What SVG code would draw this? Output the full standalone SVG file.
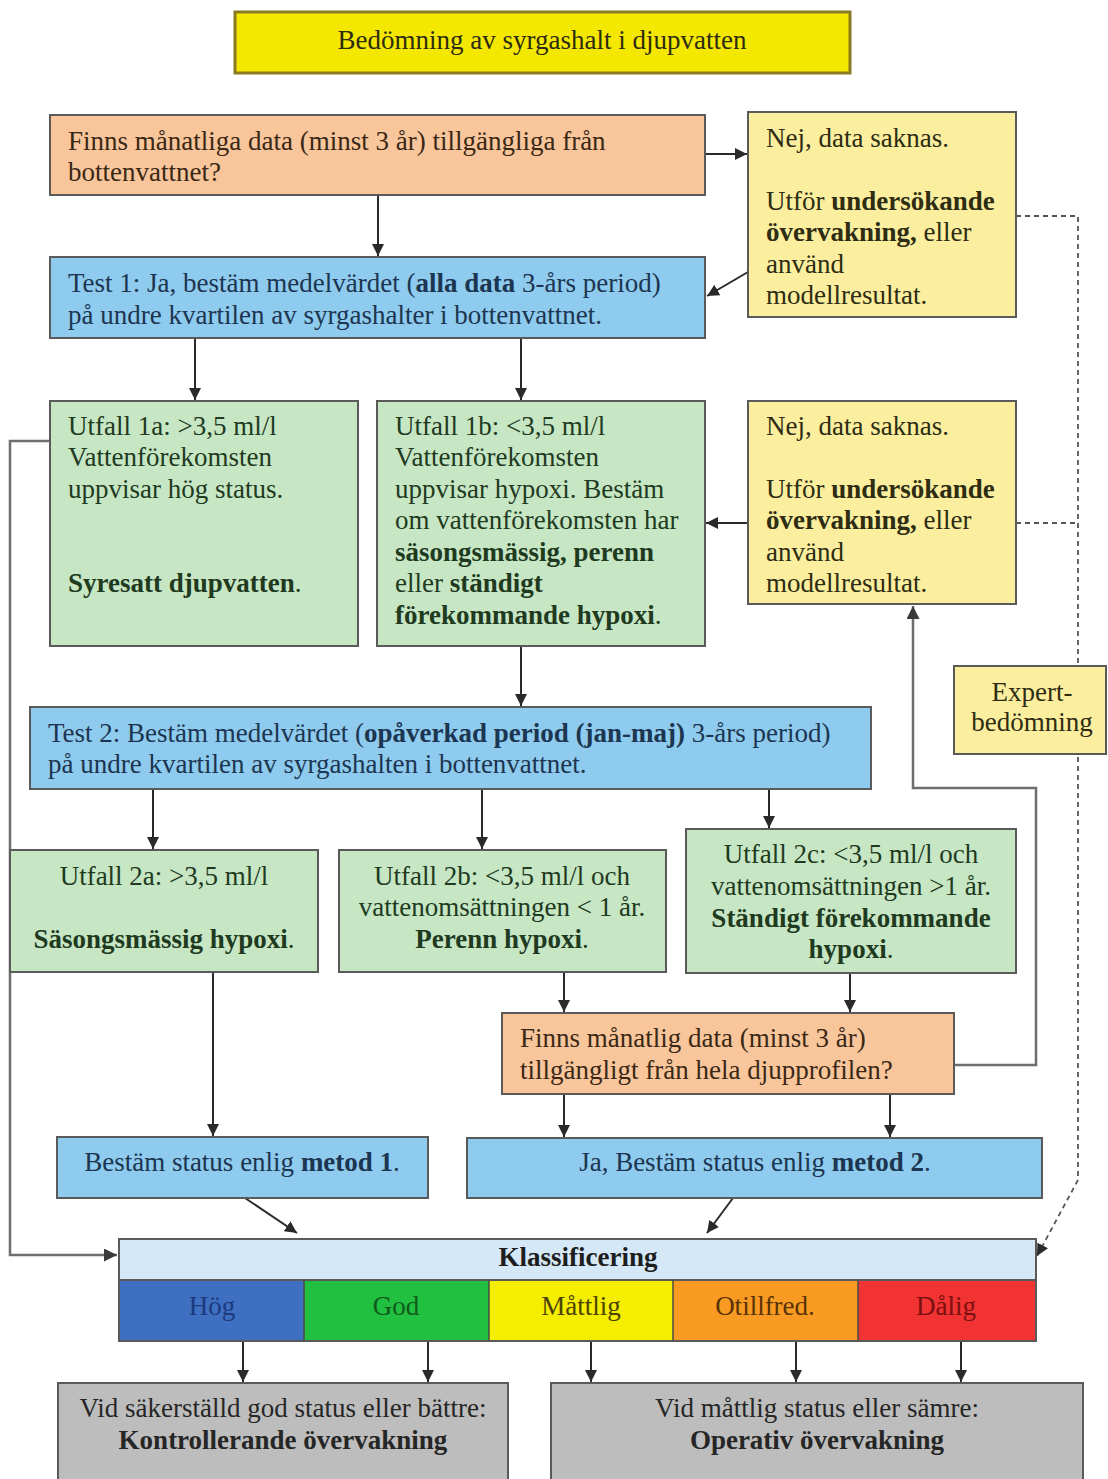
<svg xmlns="http://www.w3.org/2000/svg" width="1108" height="1479" viewBox="0 0 1108 1479">
  <defs>
    <marker id="arrow" viewBox="0 0 10 10" refX="10" refY="5" markerWidth="12" markerHeight="12" markerUnits="userSpaceOnUse" orient="auto">
      <path d="M0,0 L10,5 L0,10 z" fill="#2a2a2a"/>
    </marker>
    <marker id="arrowGray" viewBox="0 0 10 10" refX="10" refY="5" markerWidth="13" markerHeight="13" markerUnits="userSpaceOnUse" orient="auto">
      <path d="M0,0 L10,5 L0,10 z" fill="#3a3a3a"/>
    </marker>
  </defs>
  <style>
    text { font-family: "Liberation Serif", "Times New Roman", serif; font-size: 27px; }
    .b { font-weight: bold; }
    .mid { text-anchor: middle; }
    .box { stroke: #5a5a5a; stroke-width: 2; }
    .title { fill: #f5e800; stroke: #8a7a20; stroke-width: 3; }
    .peach { fill: #f9c69c; }
    .lyellow { fill: #fbef9f; }
    .blue { fill: #8ecbee; }
    .green { fill: #c6e6c4; }
    .gray { fill: #bdbdbd; }
    .tBlue { fill: #1c3550; }
    .tGreen { fill: #1f3a1f; }
    .tYel { fill: #2e2c12; }
    .tPeach { fill: #3a2815; }
    .tGray { fill: #262626; }
    .line { fill: none; stroke: #2a2a2a; stroke-width: 2; }
    .loop { fill: none; stroke: #6e6e6e; stroke-width: 2.5; }
    .dash { fill: none; stroke: #555; stroke-width: 1.8; stroke-dasharray: 5 4; }
  </style>

  <!-- connectors -->
  <g id="connectors">
    <line class="line" x1="705" y1="154" x2="747" y2="154" marker-end="url(#arrow)"/>
    <line class="line" x1="378" y1="195" x2="378" y2="256" marker-end="url(#arrow)"/>
    <line class="line" x1="748" y1="272" x2="707" y2="296" marker-end="url(#arrow)"/>
    <line class="line" x1="195" y1="338" x2="195" y2="400" marker-end="url(#arrow)"/>
    <line class="line" x1="521" y1="338" x2="521" y2="400" marker-end="url(#arrow)"/>
    <line class="line" x1="748" y1="523" x2="706" y2="523" marker-end="url(#arrow)"/>
    <line class="line" x1="521" y1="646" x2="521" y2="706" marker-end="url(#arrow)"/>
    <line class="line" x1="153" y1="789" x2="153" y2="849" marker-end="url(#arrow)"/>
    <line class="line" x1="482" y1="789" x2="482" y2="849" marker-end="url(#arrow)"/>
    <line class="line" x1="769" y1="789" x2="769" y2="828" marker-end="url(#arrow)"/>
    <line class="line" x1="213" y1="972" x2="213" y2="1136" marker-end="url(#arrow)"/>
    <line class="line" x1="564" y1="972" x2="564" y2="1012" marker-end="url(#arrow)"/>
    <line class="line" x1="850" y1="973" x2="850" y2="1012" marker-end="url(#arrow)"/>
    <line class="line" x1="564" y1="1094" x2="564" y2="1137" marker-end="url(#arrow)"/>
    <line class="line" x1="890" y1="1094" x2="890" y2="1137" marker-end="url(#arrow)"/>
    <line class="line" x1="245" y1="1198" x2="297" y2="1233" marker-end="url(#arrow)"/>
    <line class="line" x1="733" y1="1198" x2="707" y2="1233" marker-end="url(#arrow)"/>
    <!-- loop back from the depth-profile question -->
    <polyline class="loop" points="954,1065 1036,1065 1036,788 913,788 913,606" marker-end="url(#arrowGray)"/>
    <!-- left bypass from Utfall 1a -->
    <polyline class="loop" points="50,441 10,441 10,1255 117,1255" marker-end="url(#arrowGray)"/>
    <!-- expert route -->
    <polyline class="dash" points="1016,216 1078,216 1078,1180 1037,1256" marker-end="url(#arrow)"/>
    <line class="dash" x1="1016" y1="523" x2="1078" y2="523"/>
    <!-- classification to monitoring -->
    <line class="line" x1="243" y1="1341" x2="243" y2="1382" marker-end="url(#arrow)"/>
    <line class="line" x1="428" y1="1341" x2="428" y2="1382" marker-end="url(#arrow)"/>
    <line class="line" x1="591" y1="1341" x2="591" y2="1382" marker-end="url(#arrow)"/>
    <line class="line" x1="796" y1="1341" x2="796" y2="1382" marker-end="url(#arrow)"/>
    <line class="line" x1="961" y1="1341" x2="961" y2="1382" marker-end="url(#arrow)"/>
  </g>

  <g id="title">
    <rect class="title" x="235" y="12" width="615" height="61"/>
    <text class="mid tYel" x="542" y="49">Bedömning av syrgashalt i djupvatten</text>
  </g>

  <g id="q-bottom-data">
    <rect class="box peach" x="50" y="115" width="655" height="80"/>
    <text class="tPeach" x="68" y="150">Finns månatliga data (minst 3 år) tillgängliga från</text>
    <text class="tPeach" x="68" y="181">bottenvattnet?</text>
  </g>

  <g id="no-data-1">
    <rect class="box lyellow" x="748" y="112" width="268" height="205"/>
    <text class="tYel" x="766" y="147">Nej, data saknas.</text>
    <text class="tYel" x="766" y="210">Utför <tspan class="b">undersökande</tspan></text>
    <text class="tYel" x="766" y="241"><tspan class="b">övervakning,</tspan> eller</text>
    <text class="tYel" x="766" y="273">använd</text>
    <text class="tYel" x="766" y="304">modellresultat.</text>
  </g>

  <g id="test-1">
    <rect class="box blue" x="50" y="257" width="655" height="81"/>
    <text class="tBlue" x="68" y="292">Test 1: Ja, bestäm medelvärdet (<tspan class="b">alla data</tspan> 3-års period)</text>
    <text class="tBlue" x="68" y="324">på undre kvartilen av syrgashalter i bottenvattnet.</text>
  </g>

  <g id="outcome-1a">
    <rect class="box green" x="50" y="401" width="308" height="245"/>
    <text class="tGreen" x="68" y="435">Utfall 1a: &gt;3,5 ml/l</text>
    <text class="tGreen" x="68" y="466">Vattenförekomsten</text>
    <text class="tGreen" x="68" y="498">uppvisar hög status.</text>
    <text class="tGreen" x="68" y="592"><tspan class="b">Syresatt djupvatten</tspan>.</text>
  </g>

  <g id="outcome-1b">
    <rect class="box green" x="377" y="401" width="328" height="245"/>
    <text class="tGreen" x="395" y="435">Utfall 1b: &lt;3,5 ml/l</text>
    <text class="tGreen" x="395" y="466">Vattenförekomsten</text>
    <text class="tGreen" x="395" y="498">uppvisar hypoxi. Bestäm</text>
    <text class="tGreen" x="395" y="529">om vattenförekomsten har</text>
    <text class="tGreen b" x="395" y="561">säsongsmässig, perenn</text>
    <text class="tGreen" x="395" y="592">eller <tspan class="b">ständigt</tspan></text>
    <text class="tGreen" x="395" y="624"><tspan class="b">förekommande hypoxi</tspan>.</text>
  </g>

  <g id="no-data-2">
    <rect class="box lyellow" x="748" y="401" width="268" height="203"/>
    <text class="tYel" x="766" y="435">Nej, data saknas.</text>
    <text class="tYel" x="766" y="498">Utför <tspan class="b">undersökande</tspan></text>
    <text class="tYel" x="766" y="529"><tspan class="b">övervakning,</tspan> eller</text>
    <text class="tYel" x="766" y="561">använd</text>
    <text class="tYel" x="766" y="592">modellresultat.</text>
  </g>

  <g id="expert">
    <rect class="box lyellow" x="954" y="666" width="152" height="88"/>
    <text class="mid tYel" x="1032" y="701">Expert-</text>
    <text class="mid tYel" x="1032" y="731">bedömning</text>
  </g>

  <g id="test-2">
    <rect class="box blue" x="30" y="707" width="841" height="82"/>
    <text class="tBlue" x="48" y="742">Test 2: Bestäm medelvärdet (<tspan class="b">opåverkad period (jan-maj)</tspan> 3-års period)</text>
    <text class="tBlue" x="48" y="773">på undre kvartilen av syrgashalten i bottenvattnet.</text>
  </g>

  <g id="outcome-2a">
    <rect class="box green" x="10" y="850" width="308" height="122"/>
    <text class="mid tGreen" x="164" y="885">Utfall 2a: &gt;3,5 ml/l</text>
    <text class="mid tGreen" x="164" y="948"><tspan class="b">Säsongsmässig hypoxi</tspan>.</text>
  </g>

  <g id="outcome-2b">
    <rect class="box green" x="339" y="850" width="327" height="122"/>
    <text class="mid tGreen" x="502" y="885">Utfall 2b: &lt;3,5 ml/l och</text>
    <text class="mid tGreen" x="502" y="916">vattenomsättningen &lt; 1 år.</text>
    <text class="mid tGreen" x="502" y="948"><tspan class="b">Perenn hypoxi</tspan>.</text>
  </g>

  <g id="outcome-2c">
    <rect class="box green" x="686" y="829" width="330" height="144"/>
    <text class="mid tGreen" x="851" y="863">Utfall 2c: &lt;3,5 ml/l och</text>
    <text class="mid tGreen" x="851" y="895">vattenomsättningen &gt;1 år.</text>
    <text class="mid tGreen b" x="851" y="927">Ständigt förekommande</text>
    <text class="mid tGreen" x="851" y="958"><tspan class="b">hypoxi</tspan>.</text>
  </g>

  <g id="q-depth-profile">
    <rect class="box peach" x="502" y="1013" width="452" height="81"/>
    <text class="tPeach" x="520" y="1047">Finns månatlig data (minst 3 år)</text>
    <text class="tPeach" x="520" y="1079">tillgängligt från hela djupprofilen?</text>
  </g>

  <g id="method-1">
    <rect class="box blue" x="57" y="1137" width="371" height="61"/>
    <text class="mid tBlue" x="242" y="1171">Bestäm status enlig <tspan class="b">metod 1</tspan>.</text>
  </g>

  <g id="method-2">
    <rect class="box blue" x="467" y="1138" width="575" height="60"/>
    <text class="mid tBlue" x="755" y="1171">Ja, Bestäm status enlig <tspan class="b">metod 2</tspan>.</text>
  </g>

  <g id="classification">
    <rect x="119" y="1239" width="917" height="41" fill="#d5e8f7" stroke="#5a5a5a" stroke-width="2"/>
    <text class="mid b" x="578" y="1266" fill="#1e1e1e">Klassificering</text>
    <rect x="119" y="1280" width="185" height="61" fill="#3f6fc0"/>
    <rect x="304" y="1280" width="185" height="61" fill="#22c040"/>
    <rect x="489" y="1280" width="184" height="61" fill="#f5ee00"/>
    <rect x="673" y="1280" width="185" height="61" fill="#f99b22"/>
    <rect x="858" y="1280" width="178" height="61" fill="#f23333"/>
    <rect x="119" y="1280" width="917" height="61" fill="none" stroke="#5a5a5a" stroke-width="2"/>
    <line x1="304" y1="1280" x2="304" y2="1341" stroke="#4a4a4a" stroke-width="1.5"/>
    <line x1="489" y1="1280" x2="489" y2="1341" stroke="#4a4a4a" stroke-width="1.5"/>
    <line x1="673" y1="1280" x2="673" y2="1341" stroke="#4a4a4a" stroke-width="1.5"/>
    <line x1="858" y1="1280" x2="858" y2="1341" stroke="#4a4a4a" stroke-width="1.5"/>
    <text class="mid" x="212" y="1315" fill="#1c3a7e">Hög</text>
    <text class="mid" x="396" y="1315" fill="#0f5a1c">God</text>
    <text class="mid" x="581" y="1315" fill="#4a4400">Måttlig</text>
    <text class="mid" x="765" y="1315" fill="#5a3208">Otillfred.</text>
    <text class="mid" x="946" y="1315" fill="#7a1010">Dålig</text>
  </g>

  <g id="surveillance-monitoring">
    <rect class="box gray" x="58" y="1383" width="450" height="110"/>
    <text class="mid tGray" x="283" y="1417">Vid säkerställd god status eller bättre:</text>
    <text class="mid tGray b" x="283" y="1449">Kontrollerande övervakning</text>
  </g>

  <g id="operational-monitoring">
    <rect class="box gray" x="551" y="1383" width="532" height="110"/>
    <text class="mid tGray" x="817" y="1417">Vid måttlig status eller sämre:</text>
    <text class="mid tGray b" x="817" y="1449">Operativ övervakning</text>
  </g>
</svg>
